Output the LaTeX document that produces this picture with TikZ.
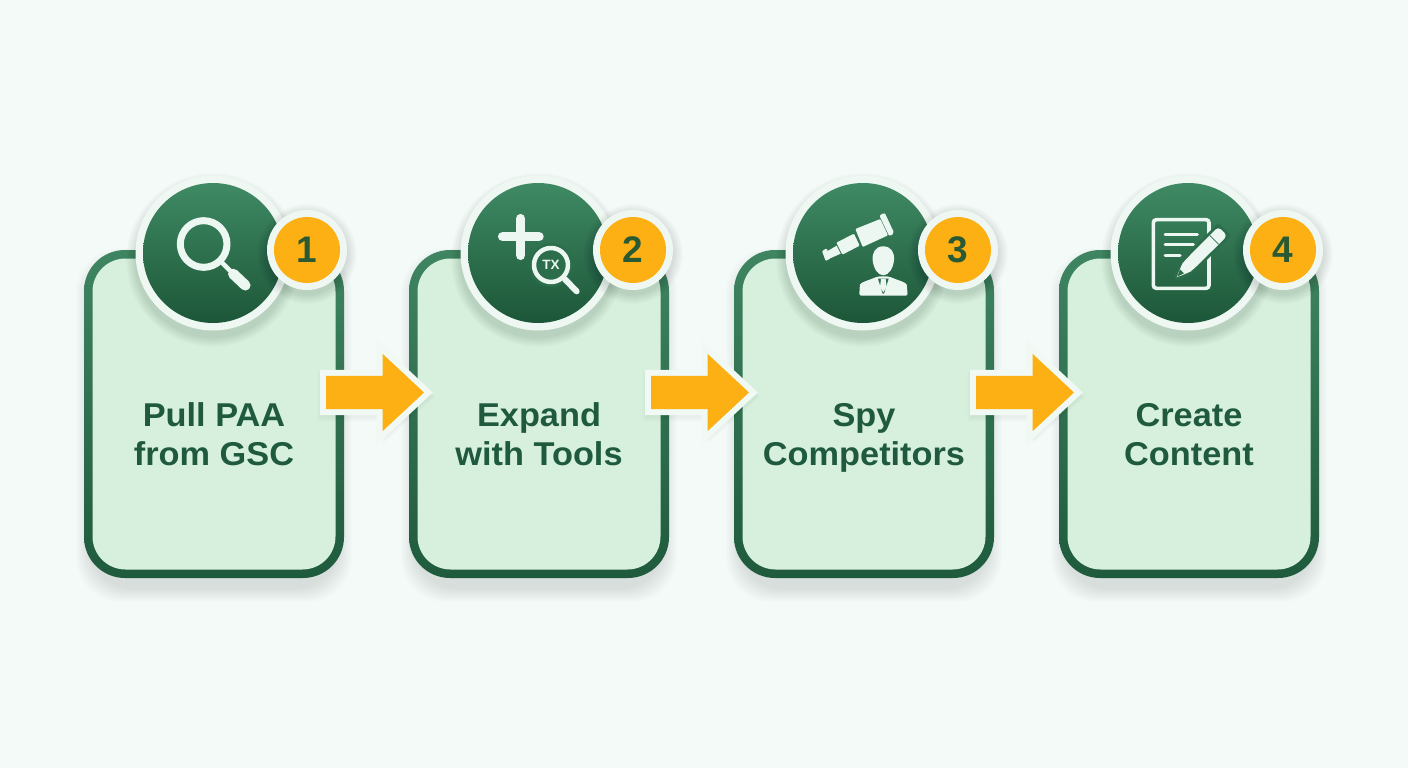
\documentclass[tikz,border=0pt]{standalone}
\usepackage{fontspec}
\setmainfont{Liberation Sans}
\newfontfamily\labfont[FakeStretch=1.04]{Liberation Sans}
\usetikzlibrary{shapes.arrows,calc}
\definecolor{bgc}{HTML}{F3FAF7}
\definecolor{cardfill}{HTML}{D7F0DD}
\definecolor{edgetop}{HTML}{3F8561}
\definecolor{edgebot}{HTML}{1F5A3D}
\definecolor{disctop}{HTML}{3F8A64}
\definecolor{discmid}{HTML}{2C6D4C}
\definecolor{discbot}{HTML}{1C5638}
\definecolor{ringc}{HTML}{EEF7F2}
\definecolor{iconc}{HTML}{EDF7F1}
\definecolor{amber}{HTML}{FDB014}
\definecolor{halo}{HTML}{F1F9F4}
\definecolor{inkc}{HTML}{1F5A3F}
\definecolor{digitc}{HTML}{2A5A33}
\tikzset{
  cardedge/.style={rectangle,rounded corners=41pt,minimum width=260pt,minimum height=328pt,inner sep=0pt,outer sep=0pt,top color=edgetop,bottom color=edgebot},
  cardbody/.style={rectangle,rounded corners=33pt,minimum width=243pt,minimum height=311pt,inner sep=0pt,outer sep=0pt,fill=cardfill},
  cardlabel/.style={align=center,text=inkc,inner sep=0pt,font=\labfont\fontsize{33}{39}\selectfont\bfseries},
  discring/.style={circle,minimum size=155pt,inner sep=0pt,outer sep=0pt,fill=ringc},
  disc/.style={circle,minimum size=140pt,inner sep=0pt,outer sep=0pt,top color=disctop,bottom color=discbot},
  badgering/.style={circle,minimum size=80pt,inner sep=0pt,outer sep=0pt,fill=ringc},
  badge/.style={circle,minimum size=66pt,inner sep=0pt,outer sep=0pt,fill=amber,text=digitc,font=\fontsize{37}{37}\selectfont\bfseries},
  flowarrow/.style={single arrow,single arrow head extend=22pt,single arrow tip angle=86,single arrow head indent=0pt,
    minimum width=77pt,minimum height=98pt,inner xsep=0pt,inner ysep=16.5pt,outer sep=0pt,anchor=tip,fill=amber,
    preaction={draw=halo,line width=12pt,miter limit=10}},
  iconline/.style={draw=iconc,line cap=round,line join=round},
}
\newcommand{\softcard}[1]{%
  \foreach \k in {0,...,13}{
    \fill[black,opacity=.0075,rounded corners=44pt]
      ($(#1-130-8+\k,250-2+\k)$) rectangle ($(#1+130+8-\k,578+24-\k)$);
  }}
\newcommand{\softdisc}[4]{% x y radius drop
  \foreach \k in {0,...,9}{
    \fill[black,opacity=.012] (#1,#2+#4) circle[radius=#3+10-\k];
  }}
\begin{document}
\begin{tikzpicture}[x=1pt,y=-1pt]
\useasboundingbox (0,0) rectangle (1408,768);
\fill[bgc] (0,0) rectangle (1408,768);

% cards
\softcard{214}\softcard{539}\softcard{864}\softcard{1189}
\foreach \c/\n/\a/\b in {214/1/Pull PAA/from GSC,539/2/Expand/with Tools,864/3/Spy/Competitors,1189/4/Create/Content}{
  \node[cardedge] (edge\n) at (\c,414) {};
  \node[cardbody] (card\n) at (\c,414) {};
  \node[cardlabel,anchor=base] (labela\n) at (\c,426.5) {\a};
  \node[cardlabel,anchor=base] (labelb\n) at (\c,465.5) {\b};
}

% arrows
\foreach \t/\n in {424/1,749/2,1074/3}{
  \foreach \k in {0,...,5}{
    \fill[black,opacity=.008] ($(\t,392.5)+(-98-9+\k,-25.5+4+\k)$) -- ++(66,0) -- ++(0,-22) -- ($(\t,392.5)+(12-\k,4)$) -- ($(\t,392.5)+(-41,51.5-\k)$) -- ++(0,-22) -- ($(\t,392.5)+(-98-9+\k,29.5-\k)$) -- cycle;
  }
  \node[flowarrow] (flow\n) at (\t,392.5) {};
}

% discs and badges
\foreach \c/\bx/\n in {213/307/1,538/633/2,863/958/3,1188/1283/4}{
  \softdisc{\c}{253}{77}{7}
  \node[discring] (ring\n) at (\c,253) {};
  \node[disc] (disc\n) at (\c,253) {};
  \softdisc{\bx}{250}{40}{4}
  \node[badgering] (badgering\n) at (\bx,250) {};
  \node[badge] (badge\n) at (\bx,250) {\n};
}

% icon 1: magnifier
\begin{scope}[shift={(70,170)},x=.3333pt,y=-.3333pt]
  \draw[iconline,line width=7pt] (401,222) circle[radius=70];
  \draw[iconline,line width=4.5pt] (452,274) -- (492,314);
  \draw[iconline,line width=10.5pt] (490,312) -- (526,346);
\end{scope}

% icon 2: plus and small magnifier
\begin{scope}[shift={(450,170)},x=.3333pt,y=-.3333pt]
  \draw[iconline,line width=9.5pt] (158,200) -- (267,200);
  \draw[iconline,line width=9.5pt] (212,146) -- (212,256);
  \fill[discmid] (303,285) circle[radius=66];
  \draw[iconline,line width=4.5pt] (303,285) circle[radius=51];
  \node[text=iconc,inner sep=0pt,font=\fontsize{13.5}{13.5}\selectfont\bfseries] (txmark) at (303,286) {TX};
  \draw[iconline,line width=6pt] (345,328) -- (380,364);
\end{scope}

% icon 3: telescope and person
\begin{scope}[shift={(810,205)},x=.3333pt,y=-.3333pt]
  \fill[iconc,rounded corners=1pt] (36,138) -- (50,130) -- (62,160) -- (47,168) -- cycle;
  \fill[iconc] (46,142) -- (80,122) -- (92,146) -- (56,162) -- cycle;
  \fill[iconc,rounded corners=1pt] (79,113) -- (132,86) -- (149,122) -- (97,149) -- cycle;
  \fill[iconc,rounded corners=1pt] (136,72) -- (211,42) -- (234,91) -- (158,126) -- cycle;
  \fill[iconc,rounded corners=2pt] (208,31) -- (224,23) -- (253,85) -- (238,94) -- cycle;
  \fill[iconc] (220,124) .. controls (243,124) and (254,142) .. (252,165) .. controls (250,190) and (236,211) .. (220,211) .. controls (204,211) and (190,190) .. (188,165) .. controls (186,142) and (197,124) .. (220,124) -- cycle;
  \fill[iconc,rounded corners=2pt] (148,272) -- (149,245) .. controls (151,232) and (176,226) .. (204,214) -- (236,214) .. controls (264,226) and (289,232) .. (291,245) -- (293,272) -- cycle;
  \fill[discmid] (204,221) -- (236,221) -- (222,266) -- (218,266) -- cycle;
  \fill[iconc] (213,222) -- (227,222) -- (230,246) -- (220,262) -- (210,246) -- cycle;
\end{scope}

% icon 4: document and pencil
\begin{scope}[shift={(1140,205)},x=.3333pt,y=-.3333pt]
  \draw[draw=iconc,line width=3.6pt,rounded corners=3pt] (40,44) rectangle (207,250);
  \draw[iconline,line width=3pt] (75,90) -- (172,90);
  \draw[iconline,line width=3pt] (75,120) -- (160,120);
  \draw[iconline,line width=3pt] (75,152) -- (120,152);
  \draw[draw=discmid,fill=discmid,line width=6pt,line join=round] (110,217) -- (155,198) -- (261,92) -- (235,66) -- (129,172) -- cycle;
  \fill[iconc,rounded corners=4pt] (110,217) -- (155,198) -- (209,145) -- (236,118) -- (262,92) -- (235,65) -- (209,91) -- (129,172) -- cycle;
  \fill[iconc] (110,217) -- (155,198) -- (129,172) -- cycle;
  \draw[discmid,line width=.8pt] (209,91) -- (236,118);
  \fill[discmid] (112,215) -- (132,205) -- (120,193) -- cycle;
\end{scope}
\end{tikzpicture}
\end{document}
